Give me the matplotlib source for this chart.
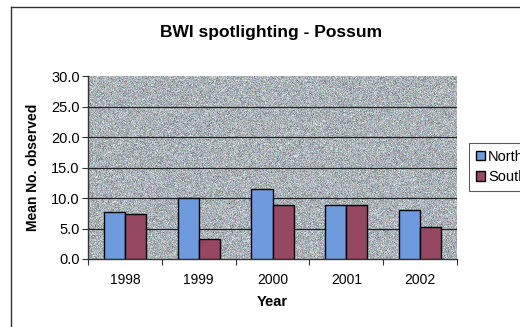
import numpy as np
import matplotlib
matplotlib.use("Agg")
import matplotlib.pyplot as plt
from matplotlib.lines import Line2D

plt.rcParams['font.family'] = ['Liberation Sans', 'DejaVu Sans']

years = ['1998', '1999', '2000', '2001', '2002']
north = [7.7, 10.0, 11.5, 8.8, 8.0]
south = [7.3, 3.2, 8.8, 8.8, 5.2]

north_col = '#6e9ade'
south_col = '#964862'

fig = plt.figure(figsize=(5.2, 3.27), dpi=100)
fig.patch.set_facecolor('white')
ax = fig.add_axes([88/520, 68/327, 369/520, 183/327])

# speckled bluish-grey fill behind the bars
rng = np.random.default_rng(3)
lum = rng.normal(0, 1, (183, 369))
base = np.array([0.67, 0.70, 0.72])
img = np.clip(base + 0.08 * lum[..., None] + 0.04 * rng.normal(0, 1, (183, 369, 3)), 0, 1)
ax.imshow(img, extent=(-0.5, 4.5, 0, 30), aspect='auto', zorder=0, interpolation='nearest')

x = np.arange(len(years))
w = 1 / 3.5
ax.bar(x - w/2, north, w, color=north_col, edgecolor='black', linewidth=1.0, zorder=3, label='North')
ax.bar(x + w/2, south, w, color=south_col, edgecolor='black', linewidth=1.0, zorder=3, label='South')

ax.set_xlim(-0.5, 4.5)
ax.set_ylim(0, 30)
ax.set_yticks(np.arange(0, 31, 5))
ax.set_yticklabels([f'{v:.1f}' for v in np.arange(0, 31, 5)], fontsize=10.5)
for v in range(5, 30, 5):
    ax.axhline(v, color='#222222', linewidth=0.9, zorder=1)

ax.set_xticks(np.arange(-0.5, 5, 1))
ax.set_xticklabels([])
ax.set_xticks(x, minor=True)
ax.set_xticklabels(years, minor=True, fontsize=10)
ax.tick_params(axis='x', which='major', direction='out', length=4, color='#333333')
ax.tick_params(axis='x', which='minor', length=0, pad=10)
ax.tick_params(axis='y', direction='out', length=4, color='#333333', pad=2)

for s in ['top', 'right']:
    ax.spines[s].set_visible(False)
for s in ['left', 'bottom']:
    ax.spines[s].set_color('#333333')
    ax.spines[s].set_linewidth(1.0)

ax.set_xlabel('Year', fontsize=10.5, fontweight='bold', labelpad=6)
ax.set_ylabel('Mean No. observed', fontsize=10, fontweight='bold', labelpad=8)

fig.text(271/520, 1 - 33/327, 'BWI spotlighting - Possum', ha='center', va='center',
         fontsize=12.5, fontweight='bold')

# outer chart border
fig.add_artist(Line2D([11/520, 11/520], [0, 1 - 7/327], transform=fig.transFigure,
                      color='#333333', linewidth=1.0))
fig.add_artist(Line2D([11/520, 1], [1 - 7/327, 1 - 7/327], transform=fig.transFigure,
                      color='#333333', linewidth=1.0))

leg = fig.legend(loc='upper left', bbox_to_anchor=(469/520, 1 - 143/327), fontsize=10.5,
                 frameon=True, fancybox=False, edgecolor='#333333', handlelength=0.65,
                 handleheight=0.65, handletextpad=0.2, borderpad=0.45, labelspacing=0.45,
                 borderaxespad=0)
leg.get_frame().set_linewidth(0.8)

fig.savefig('out.png', dpi=100)
